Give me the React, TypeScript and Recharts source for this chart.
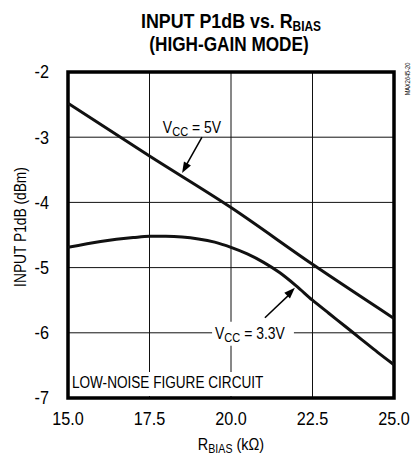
import React from 'react';
import {
  LineChart,
  Line,
  XAxis,
  YAxis,
  CartesianGrid,
  ReferenceArea,
  ReferenceLine,
  ReferenceDot,
} from 'recharts';

const FONT = '"Liberation Sans", Arial, Helvetica, sans-serif';

const xTicks = [15, 17.5, 20, 22.5, 25];
const yTicks = [-7, -6, -5, -4, -3, -2];

const vcc5R = [15, 17.5, 20, 22.5, 25];
const vcc5P = [-2.48, -3.29, -4.08, -4.95, -5.78];

const vcc33R = [15, 16, 17, 17.5, 18, 18.5, 19, 19.5, 20, 20.5, 21, 21.5, 22, 22.5, 23, 23.5, 24, 24.5, 25];
const vcc33P = [-4.69, -4.6, -4.54, -4.52, -4.52, -4.53, -4.56, -4.61, -4.69, -4.79, -4.92, -5.08, -5.28, -5.5, -5.7, -5.9, -6.1, -6.3, -6.49];

const vcc5Data = vcc5R.map((r, i) => ({ r, p: vcc5P[i] }));
const vcc33Data = vcc33R.map((r, i) => ({ r, p: vcc33P[i] }));

type CTextProps = {
  x: number;
  y: number;
  s: number;
  size: number;
  anchor?: 'start' | 'middle' | 'end';
  rotate?: number;
  bold?: boolean;
  dy?: string;
  children: React.ReactNode;
};

const CText = ({ x, y, s, size, anchor = 'start', rotate = 0, bold = false, dy, children }: CTextProps) => (
  <g transform={`translate(${x},${y}) rotate(${rotate}) scale(${s},1)`}>
    <text
      x={0}
      y={0}
      dy={dy}
      textAnchor={anchor}
      fontFamily={FONT}
      fontSize={size}
      fontWeight={bold ? 'bold' : 'normal'}
      fill="#000"
    >
      {children}
    </text>
  </g>
);

const XTick = (props: any) => (
  <CText x={props.x} y={props.y} s={0.9} size={18} anchor="middle" dy="0.71em">
    {Number(props.payload.value).toFixed(1)}
  </CText>
);

const YTick = (props: any) => (
  <CText x={props.x} y={props.y} s={0.9} size={18} anchor="end" dy="0.355em">
    {String(props.payload.value)}
  </CText>
);

const vccText = (value: string) => (props: any) => (
  <CText x={props.cx} y={props.cy} s={0.82} size={17}>
    <tspan>V</tspan>
    <tspan fontSize={13.5} dy={3}>CC</tspan>
    <tspan dy={-3}>{` = ${value}`}</tspan>
  </CText>
);

const plainText = (value: string) => (props: any) => (
  <CText x={props.cx} y={props.cy} s={0.8} size={17}>
    {value}
  </CText>
);

const arrowHead = (angle: number) => (props: any) => (
  <polygon
    points="0,0 -11,-4 -11,4"
    transform={`translate(${props.cx},${props.cy}) rotate(${angle})`}
    fill="#000"
  />
);

export default function App() {
  return (
    <div style={{ position: 'absolute', left: 0, top: 0, width: 411, height: 455, background: '#fff' }}>
      <LineChart width={411} height={455} margin={{ top: 72, right: 17, bottom: 0, left: 0 }}>
        <CartesianGrid stroke="#111" strokeWidth={1} />
        <XAxis
          dataKey="r"
          type="number"
          domain={[15, 25]}
          ticks={xTicks}
          axisLine={false}
          tickLine={false}
          tickSize={0}
          tickMargin={14}
          height={57}
          allowDataOverflow
          tick={XTick}
        />
        <YAxis
          type="number"
          domain={[-7, -2]}
          ticks={yTicks}
          axisLine={false}
          tickLine={false}
          tickSize={0}
          tickMargin={19}
          width={68}
          allowDataOverflow
          tick={YTick}
        />
        <ReferenceArea x1={15.06} x2={21.07} y1={-6.97} y2={-6.6} fill="#fff" fillOpacity={1} stroke="none" />
        <ReferenceArea x1={19.42} x2={21.93} y1={-6.2} y2={-5.83} fill="#fff" fillOpacity={1} stroke="none" />
        <Line data={vcc5Data} dataKey="p" type="monotone" stroke="#111" strokeWidth={3} dot={false} isAnimationActive={false} />
        <Line data={vcc33Data} dataKey="p" type="monotone" stroke="#111" strokeWidth={3} dot={false} isAnimationActive={false} />
        <ReferenceArea x1={15} x2={25} y1={-7} y2={-2} fill="none" stroke="#000" strokeWidth={3.5} ifOverflow="visible" />
        <ReferenceLine segment={[{ x: 19.11, y: -3.0 }, { x: 18.58, y: -3.47 }]} stroke="#000" strokeWidth={1.5} />
        <ReferenceDot x={18.5} y={-3.55} shape={arrowHead(119)} />
        <ReferenceLine segment={[{ x: 21.04, y: -5.77 }, { x: 21.86, y: -5.38 }]} stroke="#000" strokeWidth={1.5} />
        <ReferenceDot x={21.96} y={-5.31} shape={arrowHead(-45)} />
        <ReferenceDot x={17.91} y={-2.94} shape={vccText('5V')} />
        <ReferenceDot x={19.51} y={-6.09} shape={vccText('3.3V')} />
        <ReferenceDot x={15.12} y={-6.85} shape={plainText('LOW-NOISE FIGURE CIRCUIT')} />
      </LineChart>
      <svg
        width={411}
        height={455}
        style={{ position: 'absolute', left: 0, top: 0, pointerEvents: 'none' }}
      >
        <CText x={231} y={28} s={0.85} size={21} anchor="middle" bold>
          INPUT P1dB vs. R<tspan fontSize={14} dy={2.5}>BIAS</tspan>
        </CText>
        <CText x={229} y={51} s={0.86} size={20} anchor="middle" bold>
          (HIGH-GAIN MODE)
        </CText>
        <CText x={231} y={450} s={0.85} size={17} anchor="middle">
          R<tspan fontSize={12.5} dy={3}>BIAS</tspan>
          <tspan dy={-3}> (kΩ)</tspan>
        </CText>
        <CText x={26} y={227} s={0.81} size={17} anchor="middle" rotate={-90}>
          INPUT P1dB (dBm)
        </CText>
        <CText x={410} y={79} s={0.7} size={8} anchor="middle" rotate={-90}>
          MAX2645-20
        </CText>
      </svg>
    </div>
  );
}
